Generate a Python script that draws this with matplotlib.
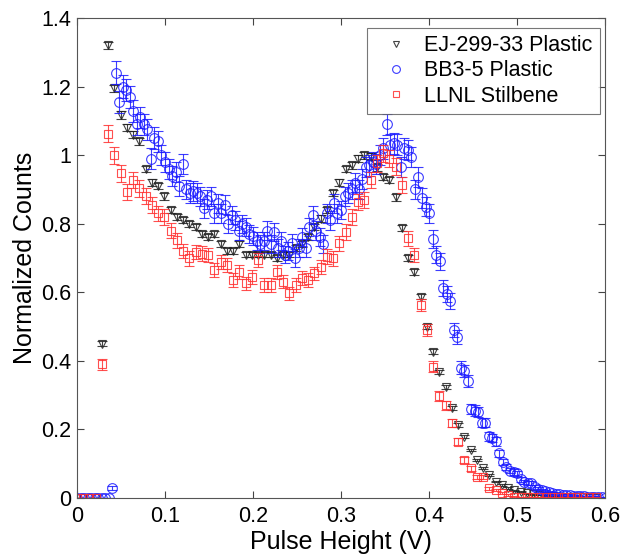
import numpy as np
import matplotlib
matplotlib.use('Agg')
import matplotlib.pyplot as plt
from matplotlib.ticker import FormatStrFormatter

plt.rcParams['font.family'] = ['Liberation Sans', 'DejaVu Sans']

# bin centres (V)
x_ej = np.round(np.arange(84) * 0.0071, 4)
x_bb = np.round(np.arange(151) * 0.004, 4)

ej299 = [0, 0, 0, 0, 0.45,
         1.32, 1.195, 1.117, 1.08, 1.06, 1.04, 0.96, 0.92, 0.91, 0.88,
         0.84, 0.82, 0.81, 0.80, 0.79, 0.77, 0.76, 0.77, 0.74, 0.72,
         0.72, 0.74, 0.71, 0.71, 0.71, 0.71, 0.71, 0.70, 0.71, 0.71,
         0.73, 0.74, 0.76, 0.79, 0.815, 0.84, 0.89, 0.92, 0.96, 0.97,
         0.99, 1.0, 0.995, 0.965, 0.936, 0.927, 0.877, 0.787, 0.70, 0.66,
         0.587,
         0.5, 0.427, 0.368, 0.325, 0.262, 0.213, 0.179, 0.14, 0.11, 0.087,
         0.067, 0.048, 0.038, 0.029, 0.023, 0.018,
         0.014, 0.011, 0.009, 0.007, 0.005, 0.004, 0.003, 0.003, 0.002,
         0.002, 0.001, 0.001]

stilbene = [0, 0, 0, 0, 0.39,
            1.063, 1.0, 0.947, 0.893, 0.927, 0.903, 0.88, 0.854, 0.83, 0.82,
            0.78, 0.752, 0.72, 0.699, 0.718, 0.713, 0.708, 0.665, 0.689, 0.679,
            0.636, 0.66, 0.626, 0.645, 0.694, 0.621, 0.621, 0.66, 0.631, 0.597,
            0.621, 0.641, 0.636, 0.655, 0.674, 0.704, 0.699, 0.743, 0.776, 0.82,
            0.864, 0.869, 0.927, 0.976, 1.005, 0.99, 0.966, 0.913, 0.757, 0.708,
            0.563,
            0.49, 0.383, 0.298, 0.271, 0.218, 0.164, 0.111, 0.087, 0.062, 0.062,
            0.028, 0.023, 0.014, 0.009, 0.004, 0.003,
            0.003, 0.003, 0.003, 0.002, 0.002, 0.002, 0.002, 0.002, 0.002,
            0.002, 0.002, 0.002]

bb35 = [0, 0, 0, 0, 0, 0, 0, 0, 0, 0,
        0.03, 1.24, 1.155, 1.20, 1.19, 1.17, 1.13, 1.09, 1.11, 1.09,
        1.075, 0.99, 1.05, 1.04, 1.00, 0.98, 0.96, 0.94, 0.95, 0.91,
        0.975, 0.90, 0.89, 0.895, 0.89, 0.88, 0.845, 0.87, 0.88, 0.83,
        0.86, 0.83, 0.855, 0.80, 0.825, 0.81, 0.78, 0.80, 0.79, 0.77,
        0.765, 0.75, 0.74, 0.75, 0.78, 0.74, 0.775, 0.73, 0.75, 0.71,
        0.72, 0.745, 0.70, 0.73, 0.76, 0.73, 0.79, 0.825, 0.78, 0.76,
        0.74, 0.83, 0.81, 0.86, 0.83, 0.84, 0.88, 0.89, 0.90, 0.92,
        0.90, 0.93, 0.965, 0.97, 0.98, 0.975, 1.0, 1.02, 1.09, 1.03,
        1.035, 1.03, 0.966, 1.02, 1.015, 0.995, 0.90, 0.937, 0.875, 0.85,
        0.83, 0.755, 0.71, 0.69, 0.612, 0.595, 0.575, 0.49, 0.47, 0.38,
        0.37, 0.34, 0.26, 0.255, 0.25, 0.22, 0.22, 0.18, 0.175, 0.165,
        0.13, 0.105, 0.09, 0.08, 0.075, 0.072, 0.055, 0.046, 0.044, 0.043,
        0.032, 0.027, 0.023, 0.019, 0.017, 0.015, 0.013, 0.011, 0.010, 0.009,
        0.008, 0.007, 0.006, 0.005, 0.005, 0.004, 0.003, 0.003, 0.002, 0.002,
        0.001]

# relative counting error scale per detector
err_ej = 0.01
err_bb = 0.03
err_st = 0.025


def main():
    fig = plt.figure(figsize=(6.24, 5.56), dpi=100)
    ax = fig.add_axes([0.1234, 0.1043, 0.8462, 0.8633])

    series = [
        (x_ej, np.array(ej299), err_ej, 'v', '#222222', 'EJ-299-33 Plastic'),
        (x_bb, np.array(bb35), err_bb, 'o', '#1a1aff', 'BB3-5 Plastic'),
        (x_ej, np.array(stilbene), err_st, 's', '#ff3030', 'LLNL Stilbene'),
    ]
    handles = []
    for xs, ys, rel, mk, col, lab in series:
        ms = 7 if mk == 'o' else 6
        ax.errorbar(xs, ys, yerr=rel * np.sqrt(ys), fmt='none', ecolor=col,
                    elinewidth=0.8, capsize=3.5, capthick=0.8, alpha=0.85)
        h, = ax.plot(xs, ys, linestyle='none', marker=mk, markersize=ms,
                     markerfacecolor='none', markeredgecolor=col,
                     markeredgewidth=0.8, alpha=0.85, label=lab)
        handles.append(h)

    ax.set_xlim(0, 0.6)
    ax.set_ylim(0, 1.4)
    ax.set_xticks(np.arange(0, 0.61, 0.1))
    ax.set_yticks(np.arange(0, 1.41, 0.2))
    ax.xaxis.set_major_formatter(FormatStrFormatter('%g'))
    ax.yaxis.set_major_formatter(FormatStrFormatter('%g'))
    ax.tick_params(direction='in', top=True, right=True, length=5,
                   labelsize=15.5, width=0.8, color='#444444', pad=4)
    ax.tick_params(axis='x', pad=6)
    for sp in ax.spines.values():
        sp.set_color('#555555')
        sp.set_linewidth(0.8)

    ax.set_xlabel('Pulse Height (V)', fontsize=18, labelpad=2)
    ax.set_ylabel('Normalized Counts', fontsize=18, labelpad=3)

    leg = ax.legend(handles=handles, loc='upper right', fontsize=15.5,
                    frameon=True, fancybox=False, edgecolor='#555555',
                    bbox_to_anchor=(0.99, 0.98), borderaxespad=0.0,
                    handletextpad=0.3, borderpad=0.35,
                    labelspacing=0.2, handlelength=2.0, markerscale=0.8)
    leg.get_frame().set_linewidth(0.8)

    fig.savefig('out.png', dpi=100)
    plt.close(fig)


if __name__ == "__main__":
    main()
